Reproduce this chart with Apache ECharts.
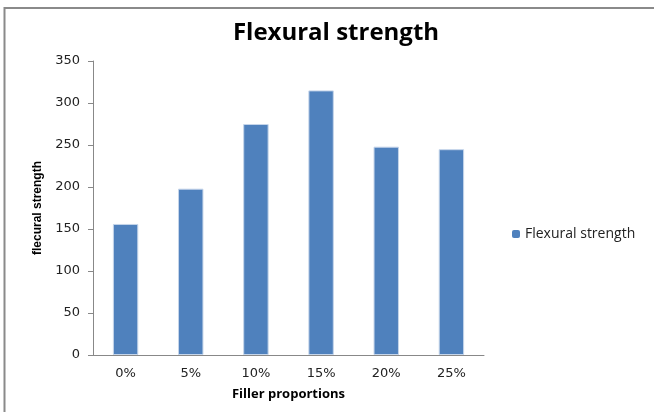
<!DOCTYPE html>
<html><head><meta charset="utf-8">
<script src="https://cdn.jsdelivr.net/npm/echarts@6/dist/echarts.min.js"></script>
<style>html,body{margin:0;padding:0;background:#fff}#c{width:654px;height:412px}</style>
</head><body><div id="c"></div>
<script>
const categories = ['0%', '5%', '10%', '15%', '20%', '25%'];
const flexuralStrength = [156, 198, 275, 315, 248, 245];
const yTicks = { min: 0, max: 350, interval: 50 };

const chart = echarts.init(document.getElementById('c'));
chart.setOption({
  animation: false,
  backgroundColor: '#fff',
  title: {
    text: 'Flexural strength', left: 331, top: 16, textAlign: 'center',
    textStyle: { fontFamily: 'Open Sans', fontWeight: 'bold', fontSize: 24, color: '#000' }
  },
  graphic: [{
    type: 'rect', shape: { x: 4.5, y: 8, width: 700, height: 450 },
    style: { fill: 'none', stroke: '#8a8a8a', lineWidth: 2 }, silent: true
  }],
  legend: {
    left: 507, top: 222, itemWidth: 8, itemHeight: 8, itemGap: 5,
    itemStyle: { borderWidth: 0 },
    textStyle: { fontFamily: 'Open Sans', fontSize: 14, color: '#222' },
    data: ['Flexural strength']
  },
  grid: { left: 93, right: 170, top: 61, bottom: 57 },
  xAxis: {
    type: 'category', data: categories,
    name: 'Filler proportions', nameLocation: 'middle', nameGap: 33,
    nameTextStyle: { fontFamily: 'Open Sans', fontWeight: 'bold', fontSize: 13, color: '#000' },
    axisLine: { lineStyle: { color: '#888' } },
    axisTick: { show: false },
    axisLabel: { fontFamily: 'DejaVu Sans', fontSize: 13, color: '#222', margin: 12 }
  },
  yAxis: {
    type: 'value', min: yTicks.min, max: yTicks.max, interval: yTicks.interval,
    name: 'flecural strength', nameLocation: 'middle', nameGap: 49, nameRotate: 90,
    nameTextStyle: { fontFamily: 'Liberation Sans', fontWeight: 'bold', fontSize: 12, color: '#000' },
    axisLine: { show: true, lineStyle: { color: '#888' } },
    axisTick: { show: true, length: 5, lineStyle: { color: '#888' } },
    splitLine: { show: false },
    axisLabel: { fontFamily: 'DejaVu Sans', fontSize: 13, color: '#222', margin: 13 }
  },
  series: [{
    name: 'Flexural strength', type: 'bar', data: flexuralStrength,
    barWidth: '39%',
    itemStyle: { color: '#4f81bd', borderColor: '#c5d5ea', borderWidth: 1 }
  }]
});
</script></body></html>
